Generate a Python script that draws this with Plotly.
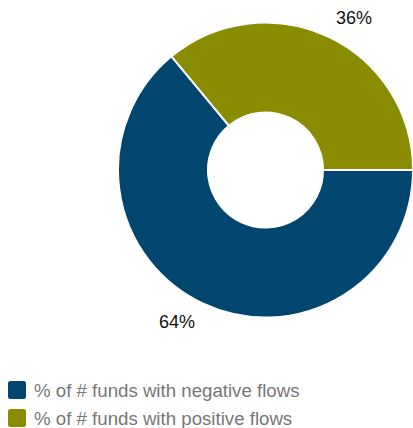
import math
import plotly.graph_objects as go

labels = ["% of # funds with negative flows", "% of # funds with positive flows"]
values = [64, 36]
colors = ["#00466F", "#8A8C00"]

W, H = 413, 428
FONT = "Arial, Liberation Sans, sans-serif"

# donut geometry in pixels
cx, cy, r = 265.5, 170.0, 147.5


def px(x):
    return x / W


def py(y):
    return 1 - y / H


fig = go.Figure(
    go.Pie(
        labels=labels,
        values=values,
        hole=0.39,
        sort=False,
        direction="clockwise",
        rotation=90,
        marker=dict(colors=colors, line=dict(color="white", width=2)),
        textinfo="none",
        domain=dict(x=[px(cx - r), 1.0], y=[py(cy + r + 0.5), py(cy - r - 0.5)]),
        hoverinfo="label+percent",
        showlegend=False,
    )
)

# percentage labels outside each slice
total = sum(values)
start = 0.0  # degrees, measured counter-clockwise from 3 o'clock
annotations = []
for v in values:
    sweep = 360.0 * v / total
    mid = start - sweep / 2 - 5
    start -= sweep
    dist = 176
    x = cx + dist * math.cos(math.radians(mid))
    y = cy - dist * math.sin(math.radians(mid))
    annotations.append(dict(
        x=px(x), y=py(y), xref="paper", yref="paper",
        text=f"{round(100 * v / total)}%", showarrow=False,
        font=dict(family=FONT, size=18, color="#111111"),
        xanchor="center", yanchor="middle",
    ))

# legend drawn as rounded swatches with text
shapes = []
leg_x, leg_y0, leg_step, sw = 8, 381, 28, 18
for i, (lab, col) in enumerate(zip(labels, colors)):
    top = leg_y0 + i * leg_step
    x0, x1, y0, y1 = leg_x, leg_x + sw, top, top + sw
    rr = 2.5
    path = (
        f"M {px(x0 + rr)} {py(y0)} L {px(x1 - rr)} {py(y0)} "
        f"Q {px(x1)} {py(y0)} {px(x1)} {py(y0 + rr)} L {px(x1)} {py(y1 - rr)} "
        f"Q {px(x1)} {py(y1)} {px(x1 - rr)} {py(y1)} L {px(x0 + rr)} {py(y1)} "
        f"Q {px(x0)} {py(y1)} {px(x0)} {py(y1 - rr)} L {px(x0)} {py(y0 + rr)} "
        f"Q {px(x0)} {py(y0)} {px(x0 + rr)} {py(y0)} Z"
    )
    shapes.append(dict(type="path", xref="paper", yref="paper", path=path,
                       fillcolor=col, line=dict(width=0)))
    annotations.append(dict(
        x=px(32), y=py(top + sw / 2 + 0.5), xref="paper", yref="paper",
        text=lab, showarrow=False, xanchor="left", yanchor="middle",
        font=dict(family=FONT, size=18.67, color="#777777"),
    ))

fig.update_layout(
    width=W,
    height=H,
    margin=dict(l=0, r=0, t=0, b=0),
    paper_bgcolor="white",
    plot_bgcolor="white",
    annotations=annotations,
    shapes=shapes,
)

fig.write_html("out.html")
